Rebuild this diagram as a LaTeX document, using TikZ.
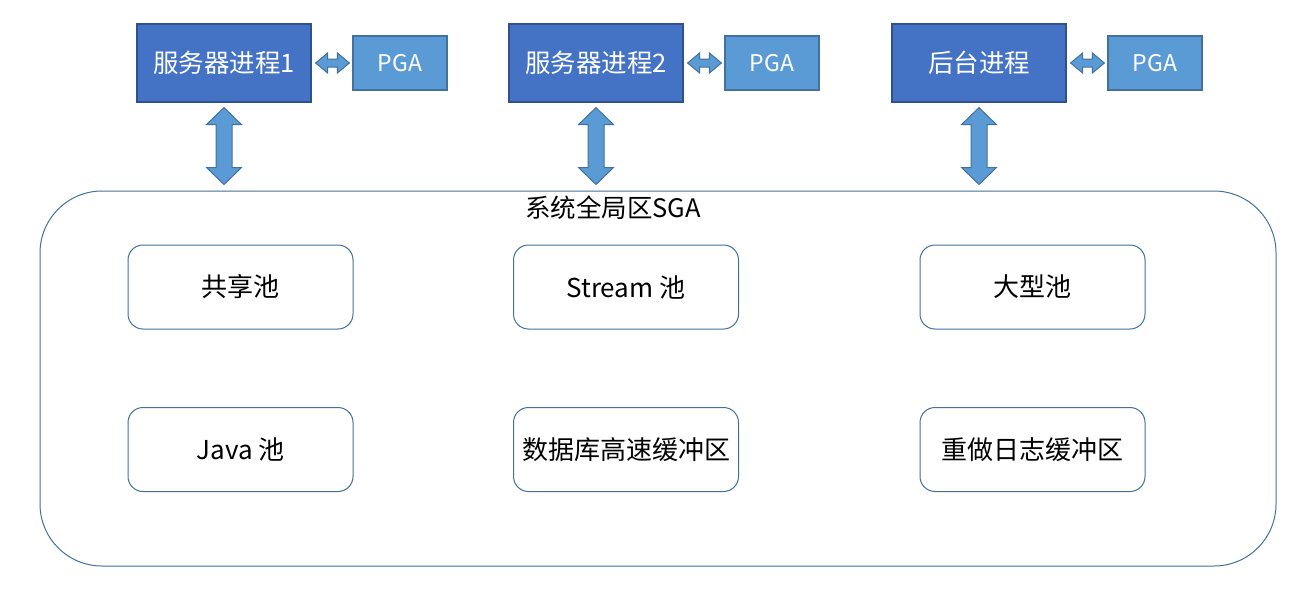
\documentclass[tikz,border=0pt]{standalone}
\usepackage{fontspec}
\setmainfont{Noto Sans CJK SC}
\usetikzlibrary{calc}
\definecolor{procfill}{HTML}{4472C4}
\definecolor{procline}{HTML}{2F528F}
\definecolor{pgafill}{HTML}{5B9BD5}
\definecolor{pgaline}{HTML}{41719C}
\tikzset{
  procbox/.style={draw=procline, line width=1.2pt, fill=procfill, text=white,
    minimum width=174pt, minimum height=78pt, inner sep=0pt, font=\fontsize{25.5}{28}\selectfont},
  pgabox/.style={draw=pgaline, line width=1.2pt, fill=pgafill, text=white,
    minimum width=94pt, minimum height=54pt, inner sep=0pt, font=\fontsize{23}{26}\selectfont},
  poolbox/.style={draw=pgaline, line width=1pt, rounded corners=15pt, fill=white,
    minimum width=225pt, minimum height=84pt, inner sep=0pt, font=\fontsize{26}{28}\selectfont},
  sgabox/.style={draw=pgaline, line width=1pt, rounded corners=62pt,
    minimum width=1236pt, minimum height=375pt, inner sep=0pt},
  fatarrow/.style={draw=pgaline, line width=1pt, fill=pgafill, line join=miter},
}
\newcommand\myVarrow[2]{%
  \draw[fatarrow] let \p1=(#1), \p2=(#2) in
    (\x1,\y1-5pt) -- (\x1+17.5pt,\y1-22pt) -- (\x1+8pt,\y1-22pt) --
    (\x2+8pt,\y2+23pt) -- (\x2+17.5pt,\y2+23pt) -- (\x2,\y2+6pt) --
    (\x2-17.5pt,\y2+23pt) -- (\x2-8pt,\y2+23pt) -- (\x1-8pt,\y1-22pt) --
    (\x1-17.5pt,\y1-22pt) -- cycle;}
\newcommand\myHarrow[2]{%
  \draw[fatarrow] let \p1=(#1), \p2=(#2) in
    (\x1+4pt,\y1) -- (\x1+16pt,\y1+10pt) -- (\x1+16pt,\y1+4pt) --
    (\x2-15pt,\y2+4pt) -- (\x2-15pt,\y2+10pt) -- (\x2-3pt,\y2) --
    (\x2-15pt,\y2-10pt) -- (\x2-15pt,\y2-4pt) -- (\x1+16pt,\y1-4pt) --
    (\x1+16pt,\y1-10pt) -- cycle;}
\begin{document}
\begin{tikzpicture}[x=1pt,y=-1pt]
\useasboundingbox[fill=white] (0,0) rectangle (1312,600);
% SGA
\node[sgabox] (sga) at (658,378.5) {};
\node[font=\fontsize{25.5}{28}\selectfont, inner sep=0pt] (sgat) at (613,208) {系统全局区SGA};
% processes
\node[procbox] (s1) at (224,63) {服务器进程1};
\node[pgabox] (p1) at (400,63) {PGA};
\node[procbox] (s2) at (596,63) {服务器进程2};
\node[pgabox] (p2) at (772,63) {PGA};
\node[procbox] (s3) at (979,63) {后台进程};
\node[pgabox] (p3) at (1155,63) {PGA};
% pools
\node[poolbox] (b1) at (240.5,287) {共享池};
\node[poolbox] (b2) at (626,287) {Stream 池};
\node[poolbox] (b3) at (1032.5,287) {大型池};
\node[poolbox] (b4) at (240.5,449.5) {Java 池};
\node[poolbox] (b5) at (626,449.5) {数据库高速缓冲区};
\node[poolbox] (b6) at (1032.5,449.5) {重做日志缓冲区};
% arrows
\coordinate (t1) at (s1.south |- sga.north);
\coordinate (t2) at (s2.south |- sga.north);
\coordinate (t3) at (s3.south |- sga.north);
\myVarrow{s1.south}{t1}
\myVarrow{s2.south}{t2}
\myVarrow{s3.south}{t3}
\myHarrow{s1.east}{p1.west}
\myHarrow{s2.east}{p2.west}
\myHarrow{s3.east}{p3.west}
\end{tikzpicture}
\end{document}
